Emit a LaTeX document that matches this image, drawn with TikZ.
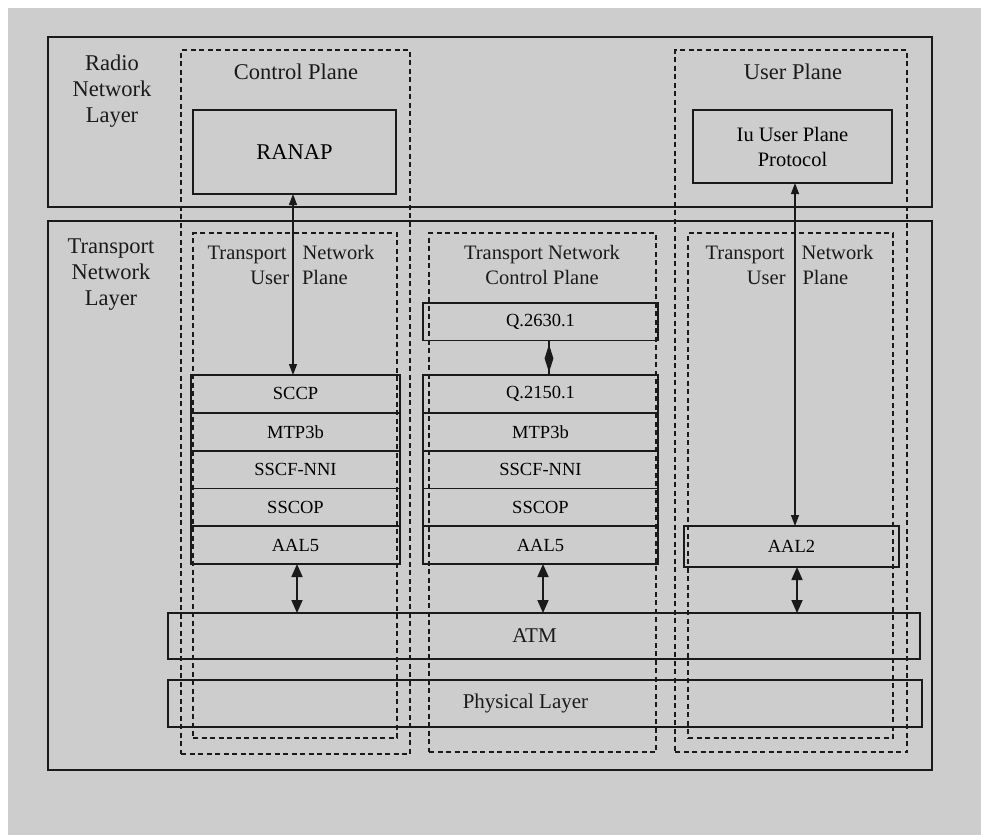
\documentclass[tikz,border=0pt]{standalone}
\usepackage{fontspec}
\setmainfont{Liberation Serif}
\usetikzlibrary{arrows.meta,shapes.geometric}
\definecolor{bggray}{HTML}{CDCDCD}
\definecolor{inkc}{HTML}{1A1A1A}
\tikzset{
  solidbox/.style={draw=inkc, line width=1.8pt, inner sep=0pt, outer sep=0pt, rectangle},
  dashbox/.style={draw=inkc, line width=1.6pt, dash pattern=on 5pt off 3.5pt, inner sep=0pt, outer sep=0pt, rectangle},
  layerbox/.style={solidbox, minimum width=209pt, minimum height=37.8pt, font=\fontsize{18.5}{21}\selectfont},
  midbox/.style={solidbox, minimum width=235pt, minimum height=37.8pt, font=\fontsize{18.5}{21}\selectfont},
  headtxt/.style={font=\fontsize{22.5}{26}\selectfont, align=center, inner sep=0pt, text=inkc},
  subtxt/.style={font=\fontsize{20.5}{25}\selectfont, align=center, inner sep=0pt, text=inkc},
  biarrow/.style={draw=inkc, line width=1.3pt, {Triangle[width=8pt,length=11pt]}-{Triangle[width=8pt,length=11pt]}},
  bigarrow/.style={draw=inkc, line width=1.7pt, {Triangle[width=11pt,length=13pt]}-{Triangle[width=11pt,length=13pt]}},
}
\begin{document}
\begin{tikzpicture}[x=1pt,y=-1pt]
\useasboundingbox (0,0) rectangle (981,835);
\fill[white] (0,0) rectangle (981,835);
\fill[bggray] (8,8) rectangle (981,835);

% layers
\node[solidbox, minimum width=884pt, minimum height=170pt] (rnl) at (490,122) {};
\node[solidbox, minimum width=884pt, minimum height=549pt] (tnl) at (490,495.5) {};
\node[headtxt] (rnltxt) at (112,91) {Radio\\Network\\Layer};
\node[headtxt] (tnltxt) at (111,275) {Transport\\Network\\Layer};

% planes
\node[dashbox, minimum width=229pt, minimum height=704pt] (cp) at (295.5,402) {};
\node[dashbox, minimum width=232pt, minimum height=702pt] (up) at (791,401) {};
\node[headtxt] (cptxt) at (296,72) {Control Plane};
\node[headtxt] (uptxt) at (793,72) {User Plane};

\node[dashbox, minimum width=204pt, minimum height=505pt] (tnupl) at (295,485.5) {};
\node[dashbox, minimum width=227pt, minimum height=519pt] (tncp) at (542.5,492.5) {};
\node[dashbox, minimum width=205pt, minimum height=505pt] (tnupr) at (790.5,485.5) {};
\node[subtxt] (tnupltxt) at (291,264.5) {Transport\hspace{16pt}Network\\\hspace{16pt}User\hspace{13pt}Plane};
\node[subtxt] (tncptxt) at (542,264.5) {Transport Network\\Control Plane};
\node[subtxt] (tnuprtxt) at (789.5,264.5) {Transport\hspace{17pt}Network\\\hspace{16pt}User\hspace{17pt}Plane};

% radio network protocols
\node[solidbox, minimum width=203pt, minimum height=84pt, font=\fontsize{22.5}{26}\selectfont] (ranap) at (294.5,152) {RANAP};
\node[solidbox, minimum width=199pt, minimum height=73pt, font=\fontsize{20.5}{25}\selectfont, align=center] (iuup) at (792.5,146.5) {Iu User Plane\\Protocol};

% left stack
\node[layerbox] (sccp) at (295.5,393.9) {SCCP};
\node[layerbox] (mtpl) at (295.5,431.7) {MTP3b};
\node[layerbox] (sscfl) at (295.5,469.5) {SSCF-NNI};
\node[layerbox] (sscopl) at (295.5,507.3) {SSCOP};
\node[layerbox] (aal5l) at (295.5,545.1) {AAL5};

% middle stack
\node[midbox] (q2630) at (540.5,321.5) {Q.2630.1};
\node[midbox] (q2150) at (540.5,393.9) {Q.2150.1};
\node[midbox] (mtpm) at (540.5,431.7) {MTP3b};
\node[midbox] (sscfm) at (540.5,469.5) {SSCF-NNI};
\node[midbox] (sscopm) at (540.5,507.3) {SSCOP};
\node[midbox] (aal5m) at (540.5,545.1) {AAL5};

% right
\node[solidbox, minimum width=215pt, minimum height=41pt, font=\fontsize{18.5}{21}\selectfont] (aal2) at (791.5,546.5) {AAL2};

% common layers
\node[solidbox, minimum width=752pt, minimum height=46pt] (atm) at (544,636) {};
\node[solidbox, minimum width=754pt, minimum height=47pt] (phy) at (545,703.5) {};
\node[subtxt, font=\fontsize{21}{25}\selectfont] (atmtxt) at (534.5,636) {ATM};
\node[subtxt, font=\fontsize{21}{25}\selectfont] (phytxt) at (525.5,703.5) {Physical Layer};

% connectors
\draw[biarrow] ([xshift=-1.5pt]ranap.south) -- ([xshift=-1.5pt]ranap.south |- sccp.north);
\draw[biarrow] ([xshift=2.5pt]iuup.south) -- ([xshift=2.5pt]iuup.south |- aal2.north);
\draw[draw=inkc, line width=1.4pt] ([xshift=8.5pt]q2630.south) -- ([xshift=8.5pt]q2630.south |- q2150.north);
\node[diamond, fill=inkc, inner sep=0pt, minimum width=9pt, minimum height=28pt] (dia) at ([xshift=8.5pt,yshift=-18pt]q2630.south) {};
\draw[bigarrow] ([xshift=1.5pt]aal5l.south) -- ([xshift=1.5pt]aal5l.south |- atm.north);
\draw[bigarrow] ([xshift=2.5pt]aal5m.south) -- ([xshift=2.5pt]aal5m.south |- atm.north);
\draw[bigarrow] ([xshift=5.5pt]aal2.south) -- ([xshift=5.5pt]aal2.south |- atm.north);
\end{tikzpicture}
\end{document}
